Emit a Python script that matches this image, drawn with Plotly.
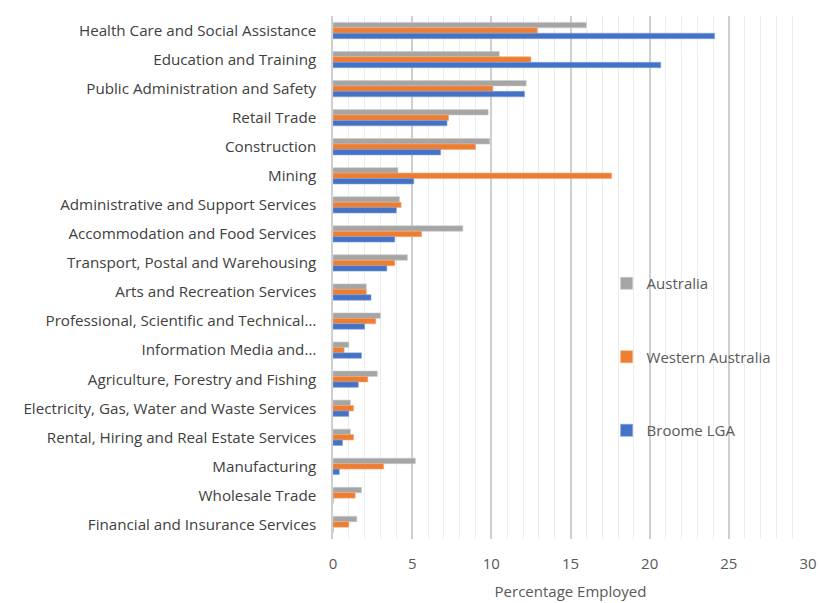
import plotly.graph_objects as go

categories = [
    "Health Care and Social Assistance",
    "Education and Training",
    "Public Administration and Safety",
    "Retail Trade",
    "Construction",
    "Mining",
    "Administrative and Support Services",
    "Accommodation and Food Services",
    "Transport, Postal and Warehousing",
    "Arts and Recreation Services",
    "Professional, Scientific and Technical…",
    "Information Media and…",
    "Agriculture, Forestry and Fishing",
    "Electricity, Gas, Water and Waste Services",
    "Rental, Hiring and Real Estate Services",
    "Manufacturing",
    "Wholesale Trade",
    "Financial and Insurance Services",
]

australia = [16.0, 10.5, 12.2, 9.8, 9.9, 4.1, 4.2, 8.2, 4.7, 2.1, 3.0, 1.0, 2.8, 1.1, 1.1, 5.2, 1.8, 1.5]
western_australia = [12.9, 12.5, 10.1, 7.3, 9.0, 17.6, 4.3, 5.6, 3.9, 2.1, 2.7, 0.7, 2.2, 1.3, 1.3, 3.2, 1.4, 1.0]
broome = [24.1, 20.7, 12.1, 7.2, 6.8, 5.1, 4.0, 3.9, 3.4, 2.4, 2.0, 1.8, 1.6, 1.0, 0.6, 0.4, 0.0, 0.0]

series = [
    ("Australia", australia, "#A5A5A5", "#C9C9C9"),
    ("Western Australia", western_australia, "#ED7D31", "#F4A777"),
    ("Broome LGA", broome, "#4472C4", "#7F9FD8"),
]

fig = go.Figure()
for name, vals, col, edge in series:
    fig.add_trace(go.Bar(
        y=categories, x=vals, name=name, orientation="h",
        marker=dict(color=col, line=dict(color=edge, width=0.6)),
        legendgroup=name,
    ))

font_family = "Open Sans, DejaVu Sans, sans-serif"

fig.update_layout(
    width=820, height=603,
    margin=dict(l=333, r=12, t=16, b=64, autoexpand=False),
    paper_bgcolor="white", plot_bgcolor="white",
    barmode="group", bargap=0.44, bargroupgap=0.0,
    font=dict(family=font_family, color="#595959", size=14),
    showlegend=True,
    legend=dict(
        x=0.576, xanchor="left", y=0.52, yanchor="top",
        xref="paper", yref="paper",
        bgcolor="rgba(0,0,0,0)",
        font=dict(size=15, color="#595959", family=font_family),
        traceorder="grouped", tracegroupgap=51,
        itemwidth=30,
    ),
    xaxis=dict(
        range=[0, 30], dtick=5, tick0=0,
        showgrid=True, gridcolor="#CFCFCF", gridwidth=1.5,
        minor=dict(dtick=1, showgrid=True, gridcolor="#EDEDED", gridwidth=1),
        zeroline=False, showline=False, automargin=False,
        tickfont=dict(size=15, color="#595959"),
        ticklabelstandoff=14,
        title=dict(text="Percentage Employed", font=dict(size=15, color="#595959"), standoff=14),
        ticks="", fixedrange=True,
    ),
    yaxis=dict(
        autorange="reversed", showgrid=False, zeroline=False, automargin=False,
        showline=True, linecolor="#CFCFCF", linewidth=1.5,
        tickfont=dict(size=15.2, color="#404040"),
        ticks="", ticklabelstandoff=12,
    ),
)

# remove the default page margin so the figure fills the window exactly
fig.write_html(
    "out.html",
    config={"displayModeBar": False},
    post_script="document.body.style.margin='0';document.body.style.overflow='hidden';",
)
